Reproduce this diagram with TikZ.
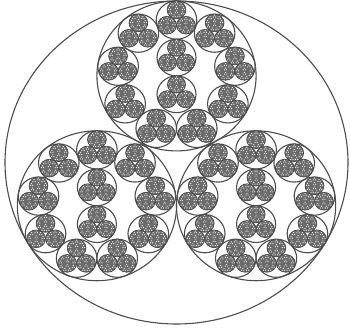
\documentclass[tikz,border=0pt]{standalone}
\newcommand{\tripack}[1]{%
  \foreach \ang in {90,210,330}{%
    \begin{scope}[shift={(\ang:0.5359)},scale=0.4641]#1\end{scope}}}
\newcommand{\elevenpack}[1]{%
  \foreach \ang in {90,130,...,410}{%
    \begin{scope}[shift={(\ang:0.7451)},scale=0.2549]#1\end{scope}}%
  \foreach \yy in {0.245,-0.245}{%
    \begin{scope}[shift={(0,\yy)},scale=0.245]#1\end{scope}}}
\tikzset{
  ring/.style={draw=black!70,line width=1.1bp},
  lobe/.style={draw=black!72,fill=black!58,line width=0.7bp},
  dot/.style={fill=white}
}
\begin{document}
\begin{tikzpicture}[x=1bp,y=1bp]
\useasboundingbox (0,0) rectangle (350,331);
\begin{scope}[shift={(176.5bp,168.5bp)},x=171.5bp,y=161.5bp]
\draw[ring] (0,0) circle (1);
\tripack{\draw[ring] (0,0) circle (1);
  \elevenpack{\draw[ring] (0,0) circle (1);
    \tripack{\draw[lobe] (0,0) circle (1);
      \elevenpack{\tripack{\fill[dot] (0,0) circle (0.55);}}}}}
\end{scope}
\end{tikzpicture}
\end{document}
